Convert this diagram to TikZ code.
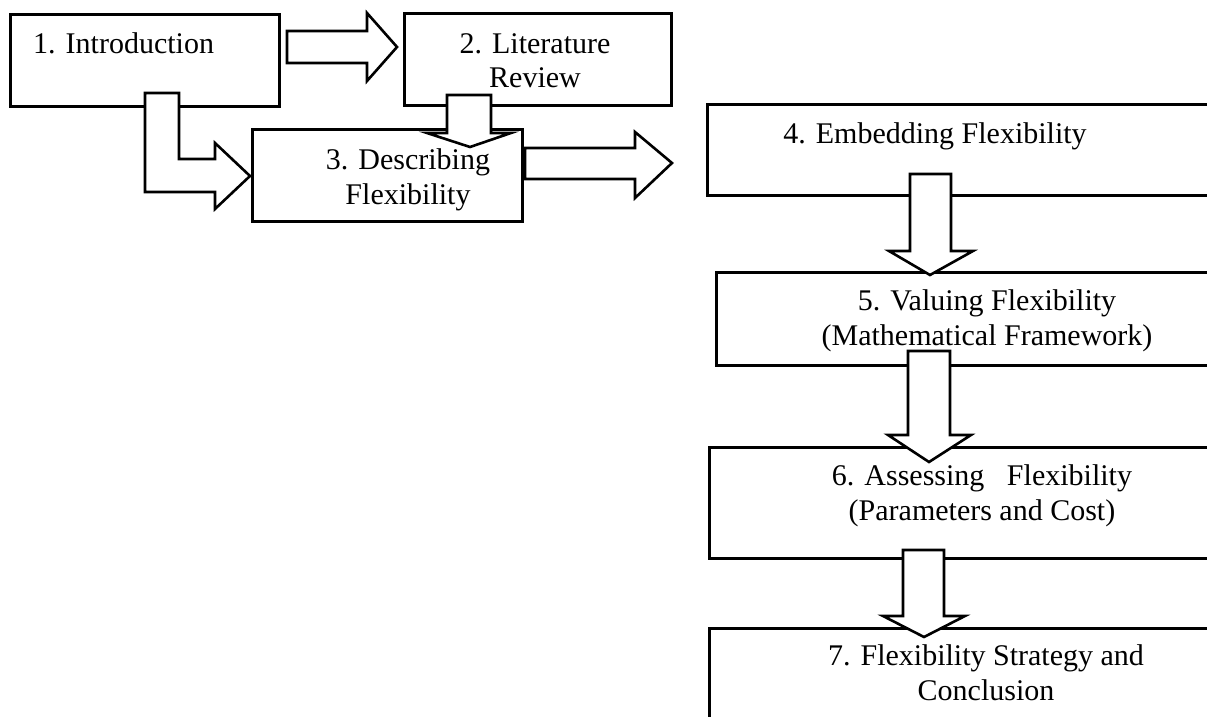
\documentclass[tikz,border=0pt]{standalone}
\usepackage{fontspec}
\setmainfont{Liberation Serif}
\usetikzlibrary{calc}
\tikzstyle{box} = [rectangle, anchor=north west, inner sep=0pt, draw=black, line width=2.6pt, fill=white]
\tikzstyle{boxtext} = [align=center, anchor=base, inner sep=0pt, font=\fontsize{30}{35}\selectfont]
\tikzstyle{fatarrow} = [draw=black, line width=2.6pt, fill=white, line join=miter]

\begin{document}
\begin{tikzpicture}[x=1pt, y=-1pt]
    \clip (0,0) rectangle (1207,717);

    \node (intro) [box, minimum width=269pt, minimum height=92pt] at (9,13) {};
    \node (litrev) [box, minimum width=267pt, minimum height=92pt] at (403,12) {};
    \node (describe) [box, minimum width=270pt, minimum height=92pt] at (251,128) {};
    \node (embed) [box, minimum width=519pt, minimum height=91pt] at (706,103) {};
    \node (value) [box, minimum width=510pt, minimum height=93pt] at (715,271) {};
    \node (assess) [box, minimum width=517pt, minimum height=111pt] at (708,446) {};
    \node (strategy) [box, minimum width=517pt, minimum height=133pt] at (708,627) {};

    % block arrows
    \draw [fatarrow] (287,31) -- (367,31) -- (367,13) -- (397,47) -- (367,81) -- (367,63) -- (287,63) -- cycle;
    \draw [fatarrow] (145,93) -- (179,93) -- (179,159) -- (215,159) -- (215,143) -- (250,176) -- (215,209) -- (215,192) -- (145,192) -- cycle;
    \draw [fatarrow] (447,95) -- (491,95) -- (491,133) -- (511,133) -- (470,147) -- (427,133) -- (447,133) -- cycle;
    \draw [fatarrow] (525,148) -- (635,148) -- (635,132) -- (672,163) -- (635,198) -- (635,179) -- (525,179) -- cycle;
    \draw [fatarrow] (910,174) -- (951,174) -- (951,251) -- (973,251) -- (930,275) -- (889,251) -- (910,251) -- cycle;
    \draw [fatarrow] (908,351) -- (950,351) -- (950,435) -- (971,435) -- (929,462) -- (888,435) -- (908,435) -- cycle;
    \draw [fatarrow] (903,550) -- (944,550) -- (944,616) -- (965,616) -- (924,637) -- (883,616) -- (903,616) -- cycle;

    % box texts (base = last line)
    \node (intro_txt) [boxtext, anchor=base west] at (33,53) {1. Introduction};
    \node (litrev_txt) [boxtext] at (535,88) {2. Literature\\Review};
    \node (describe_txt) [boxtext] at (408,204) {3. Describing\\Flexibility};
    \node (embed_txt) [boxtext] at (935,143) {4. Embedding Flexibility};
    \node (value_txt) [boxtext] at (987,345) {5. Valuing Flexibility\\(Mathematical Framework)};
    \node (assess_txt) [boxtext] at (982,520) {6. Assessing~~ Flexibility\\(Parameters and Cost)};
    \node (strategy_txt) [boxtext] at (986,700) {7. Flexibility Strategy and\\Conclusion};

\end{tikzpicture}
\end{document}
